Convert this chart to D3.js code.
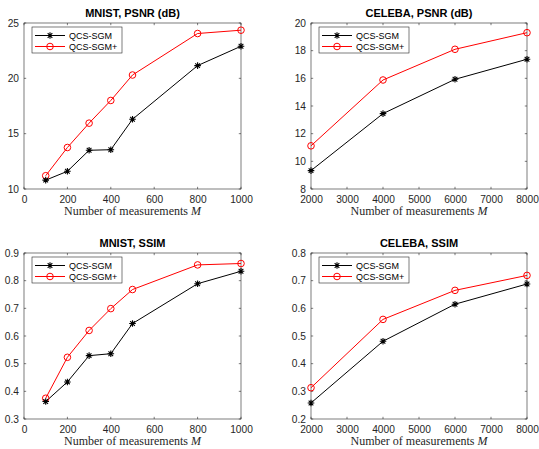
<!DOCTYPE html>
<html><head><meta charset="utf-8">
<script src="https://cdn.jsdelivr.net/npm/d3@7"></script>
<style>body{margin:0;background:#fff}svg{display:block}</style>
</head><body>
<script>
// ---- data ----
const seriesNames = ["QCS-SGM", "QCS-SGM+"];
const mnistM = [100, 200, 300, 400, 500, 800, 1000];
const celebaM = [2000, 4000, 6000, 8000];
const mnistPsnrBase = [10.8, 11.6, 13.5, 13.55, 16.3, 21.15, 22.9];
const mnistPsnrPlus = [11.2, 13.75, 15.95, 18.0, 20.3, 24.05, 24.35];
const celebaPsnrBase = [9.33, 13.45, 15.93, 17.38];
const celebaPsnrPlus = [11.12, 15.88, 18.1, 19.3];
const mnistSsimBase = [0.363, 0.434, 0.529, 0.536, 0.645, 0.789, 0.834];
const mnistSsimPlus = [0.375, 0.523, 0.620, 0.699, 0.768, 0.857, 0.862];
const celebaSsimBase = [0.258, 0.481, 0.615, 0.688];
const celebaSsimPlus = [0.313, 0.560, 0.665, 0.719];
const mnistXTicks = [0, 200, 400, 600, 800, 1000];
const celebaXTicks = [2000, 3000, 4000, 5000, 6000, 7000, 8000];
const mnistPsnrTicks = [10, 15, 20, 25];
const celebaPsnrTicks = [8, 10, 12, 14, 16, 18, 20];
const mnistSsimTicks = [0.3, 0.4, 0.5, 0.6, 0.7, 0.8, 0.9];
const celebaSsimTicks = [0.2, 0.3, 0.4, 0.5, 0.6, 0.7, 0.8];
const titles = ["MNIST, PSNR (dB)", "CELEBA, PSNR (dB)", "MNIST, SSIM", "CELEBA, SSIM"];

const W = 539, H = 449;
const svg = d3.select("body").append("svg").attr("width", W).attr("height", H);
const axisColor = "#262626";
const colors = ["#000000", "#ff0000"];

const panels = [
  {title: titles[0], x: mnistM, ys: [mnistPsnrBase, mnistPsnrPlus], xd: [0, 1000], yd: [10, 25], xt: mnistXTicks, yt: mnistPsnrTicks, box: [24, 241, 23, 189], fmt: d => d},
  {title: titles[1], x: celebaM, ys: [celebaPsnrBase, celebaPsnrPlus], xd: [2000, 8000], yd: [8, 20], xt: celebaXTicks, yt: celebaPsnrTicks, box: [311, 527, 23, 189], fmt: d => d},
  {title: titles[2], x: mnistM, ys: [mnistSsimBase, mnistSsimPlus], xd: [0, 1000], yd: [0.3, 0.9], xt: mnistXTicks, yt: mnistSsimTicks, box: [24, 241, 253, 419], fmt: d3.format(".1f")},
  {title: titles[3], x: celebaM, ys: [celebaSsimBase, celebaSsimPlus], xd: [2000, 8000], yd: [0.2, 0.8], xt: celebaXTicks, yt: celebaSsimTicks, box: [311, 527, 253, 419], fmt: d3.format(".1f")}
];

function star(g, cx, cy, r) {
  const p = d3.path();
  for (let i = 0; i < 4; i++) {
    const a = i * Math.PI / 4;
    p.moveTo(cx - r * Math.cos(a), cy - r * Math.sin(a));
    p.lineTo(cx + r * Math.cos(a), cy + r * Math.sin(a));
  }
  g.append("path").attr("d", p.toString()).attr("stroke", "#000").attr("stroke-width", 1.1).attr("fill", "none");
}

panels.forEach(P => {
  const [x0, x1, y0, y1] = P.box;
  const xs = d3.scaleLinear().domain(P.xd).range([x0, x1]);
  const ys = d3.scaleLinear().domain(P.yd).range([y1, y0]);
  const g = svg.append("g");

  // axes
  const ax = g.append("g").attr("transform", `translate(0,${y1})`)
    .call(d3.axisBottom(xs).tickValues(P.xt).tickSize(0).tickPadding(7).tickFormat(d => d));
  const ay = g.append("g").attr("transform", `translate(${x0},0)`)
    .call(d3.axisLeft(ys).tickValues(P.yt).tickSize(0).tickPadding(5).tickFormat(P.fmt));
  [ax, ay].forEach(a => {
    a.select(".domain").remove();
    a.selectAll("text").attr("font-family", "Liberation Sans, Arial, sans-serif").attr("font-size", 10.2).attr("fill", axisColor);
  });
  ay.selectAll("text").attr("dy", "0.3em");
  // ticks inward on all four sides
  const tl = 2.2;
  P.xt.forEach(t => {
    g.append("line").attr("x1", xs(t)).attr("x2", xs(t)).attr("y1", y1).attr("y2", y1 - tl).attr("stroke", axisColor).attr("stroke-width", 0.6);
    g.append("line").attr("x1", xs(t)).attr("x2", xs(t)).attr("y1", y0).attr("y2", y0 + tl).attr("stroke", axisColor).attr("stroke-width", 0.6);
  });
  P.yt.forEach(t => {
    g.append("line").attr("x1", x0).attr("x2", x0 + tl).attr("y1", ys(t)).attr("y2", ys(t)).attr("stroke", axisColor).attr("stroke-width", 0.6);
    g.append("line").attr("x1", x1).attr("x2", x1 - tl).attr("y1", ys(t)).attr("y2", ys(t)).attr("stroke", axisColor).attr("stroke-width", 0.6);
  });
  g.append("rect").attr("x", x0).attr("y", y0).attr("width", x1 - x0).attr("height", y1 - y0)
    .attr("fill", "none").attr("stroke", axisColor).attr("stroke-width", 0.6);

  // title
  g.append("text").attr("x", (x0 + x1) / 2).attr("y", y0 - 6).attr("text-anchor", "middle")
    .attr("font-family", "Liberation Sans, Arial, sans-serif").attr("font-weight", "bold").attr("font-size", 11)
    .attr("fill", "#000").text(P.title);

  // x label
  const xl = g.append("text").attr("x", (x0 + x1) / 2).attr("y", y1 + 26).attr("text-anchor", "middle")
    .attr("font-family", "Liberation Serif, Times New Roman, serif").attr("font-size", 12).attr("fill", axisColor);
  xl.append("tspan").text("Number of measurements ");
  xl.append("tspan").attr("font-style", "italic").text("M");

  // lines
  const line = d3.line().x((d, i) => xs(P.x[i])).y(d => ys(d));
  P.ys.forEach((vals, si) => {
    g.append("path").datum(vals).attr("d", line).attr("fill", "none").attr("stroke", colors[si]).attr("stroke-width", 1);
  });
  // markers
  P.ys[1].forEach((v, i) => {
    g.append("circle").attr("cx", xs(P.x[i])).attr("cy", ys(v)).attr("r", 3.3).attr("fill", "none").attr("stroke", colors[1]).attr("stroke-width", 1);
  });
  P.ys[0].forEach((v, i) => star(g, xs(P.x[i]), ys(v), 3.3));

  // legend
  const lx = x0 + 8, ly = y0 + 4, lw = 90, lh = 26;
  g.append("rect").attr("x", lx).attr("y", ly).attr("width", lw).attr("height", lh)
    .attr("fill", "#fff").attr("stroke", axisColor).attr("stroke-width", 0.6);
  seriesNames.forEach((name, si) => {
    const yy = ly + 8.5 + si * 11;
    g.append("line").attr("x1", lx + 3).attr("x2", lx + 33).attr("y1", yy).attr("y2", yy).attr("stroke", colors[si]).attr("stroke-width", 1);
    if (si === 0) star(g, lx + 18, yy, 3.3);
    else g.append("circle").attr("cx", lx + 18).attr("cy", yy).attr("r", 3.3).attr("fill", "none").attr("stroke", colors[1]).attr("stroke-width", 1);
    g.append("text").attr("x", lx + 37).attr("y", yy + 3.2).attr("font-family", "Liberation Sans, Arial, sans-serif")
      .attr("font-size", 9).attr("fill", "#000").text(name);
  });
});
</script>
</body></html>
